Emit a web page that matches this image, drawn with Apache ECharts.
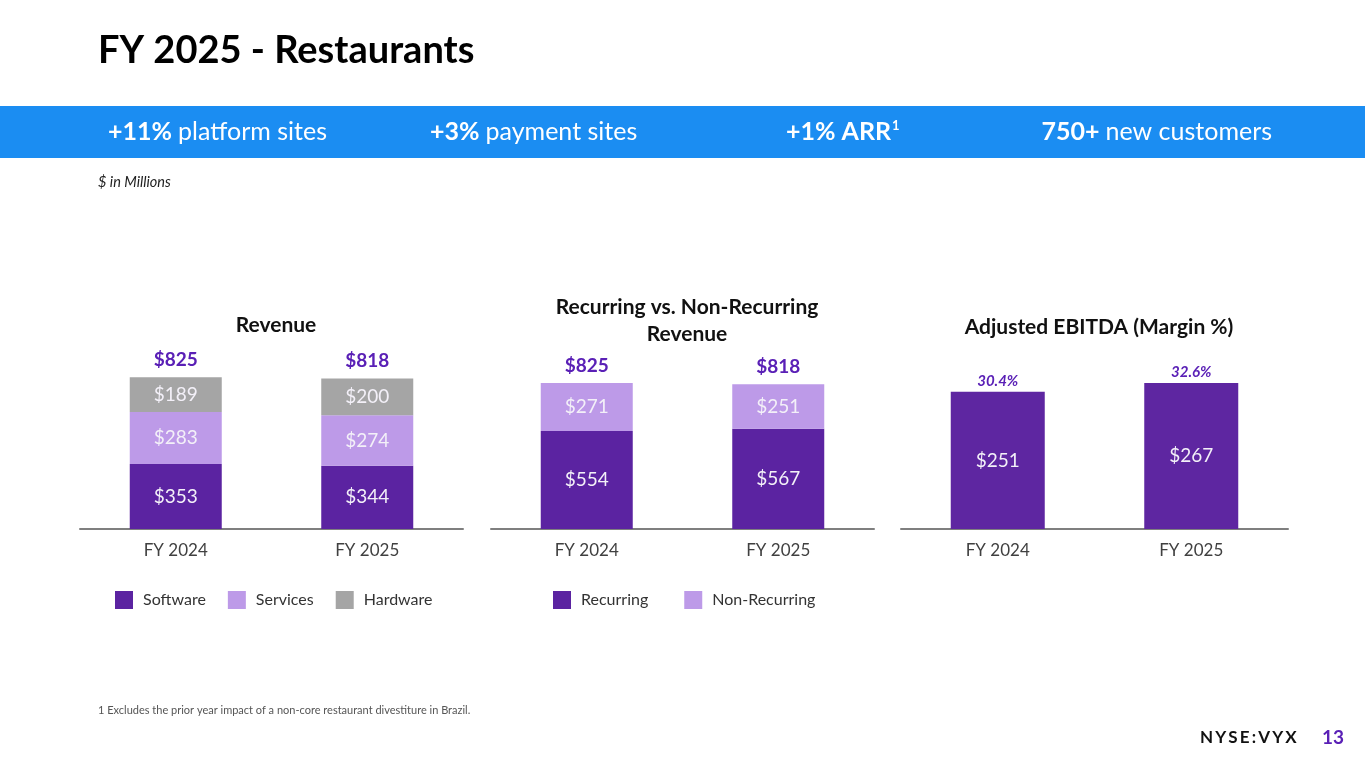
<!DOCTYPE html>
<html>
<head>
<meta charset="utf-8">
<script src="https://cdn.jsdelivr.net/npm/echarts@6/dist/echarts.min.js"></script>
<style>
html,body{margin:0;padding:0;background:#fff;}
#main{width:1365px;height:768px;}
</style>
</head>
<body>
<div id="main"></div>
<script>
// ---- data ----
const categories = ['FY 2024', 'FY 2025'];
const software = [353, 344];
const services = [283, 274];
const hardware = [189, 200];
const revenueTotals = [825, 818];
const recurring = [554, 567];
const nonRecurring = [271, 251];
const recurringTotals = [825, 818];
const ebitda = [251, 267];
const ebitdaMargin = [30.4, 32.6];

const FONT = 'Lato, "Noto Sans", sans-serif';
const DARK = '#5b23a1';
const LIGHT = '#bd9ae8';
const GRAY = '#a5a5a5';
const TOTAL = '#5a20b6';
const INLBL = '#f3f0f8';

const chart = echarts.init(document.getElementById('main'));

function xAxis(idx) {
  return {
    type: 'category', gridIndex: idx, data: categories,
    axisLine: {lineStyle: {color: '#7f7f7f', width: 2}},
    axisTick: {show: false},
    axisLabel: {fontSize: 17, color: '#404040', fontFamily: FONT, margin: 13}
  };
}
function yAxis(idx, max) {
  return {type: 'value', gridIndex: idx, min: 0, max: max, show: false, splitLine: {show: false}};
}
function seg(name, data, color, idx, bw) {
  return {
    name: name, type: 'bar', stack: 's' + idx, xAxisIndex: idx, yAxisIndex: idx,
    data: data, barWidth: bw, barGap: '-100%',
    itemStyle: {color: color},
    label: {show: true, position: 'inside', formatter: '${c}', color: INLBL, fontSize: 19, fontFamily: FONT},
    emphasis: {disabled: true}
  };
}
function totalSeries(name, data, idx, bw, fmt, lblStyle) {
  return {
    name: name, type: 'bar', xAxisIndex: idx, yAxisIndex: idx,
    data: data, barWidth: bw, barGap: '-100%', z: 1,
    itemStyle: {color: 'rgba(0,0,0,0)'},
    label: Object.assign({show: true, position: 'top', formatter: fmt, fontFamily: FONT}, lblStyle),
    emphasis: {disabled: true}, silent: true
  };
}
function bannerRich() {
  return {
    b: {fontSize: 25, fontWeight: 'bold', fill: '#fff', fontFamily: FONT},
    n: {fontSize: 25, fill: '#fff', fontFamily: FONT},
    s: {fontSize: 13, fontWeight: 'bold', fill: '#fff', fontFamily: FONT, verticalAlign: 'top', padding: [0, 0, 10, 1]}
  };
}

const option = {
  animation: false,
  backgroundColor: '#ffffff',
  textStyle: {fontFamily: FONT},
  title: [
    {text: 'Revenue', left: 271, top: 310, textAlign: 'center',
     textStyle: {fontSize: 21, fontWeight: 'bold', color: '#111', fontFamily: FONT}},
    {text: 'Recurring vs. Non-Recurring\nRevenue', left: 682, top: 289, textAlign: 'center',
     textStyle: {fontSize: 21, fontWeight: 'bold', color: '#111', lineHeight: 27, fontFamily: FONT}},
    {text: 'Adjusted EBITDA (Margin %)', left: 1094, top: 312, textAlign: 'center',
     textStyle: {fontSize: 21, fontWeight: 'bold', color: '#111', fontFamily: FONT}}
  ],
  legend: [
    {data: ['Software', 'Services', 'Hardware'], left: 110, top: 586, icon: 'rect',
     itemWidth: 18, itemHeight: 18, itemGap: 22, selectedMode: false,
     textStyle: {fontSize: 16, color: '#333', fontFamily: FONT, padding: [0, 0, 0, 5]}},
    {data: ['Recurring', 'Non-Recurring'], left: 548, top: 586, icon: 'rect',
     itemWidth: 18, itemHeight: 18, itemGap: 36, selectedMode: false,
     textStyle: {fontSize: 16, color: '#333', fontFamily: FONT, padding: [0, 0, 0, 5]}}
  ],
  grid: [
    {left: 80, width: 383, top: 345, height: 184},
    {left: 491, width: 383, top: 352, height: 177},
    {left: 901, width: 387, top: 365, height: 164}
  ],
  xAxis: [xAxis(0), xAxis(1), xAxis(2)],
  yAxis: [yAxis(0, 1000), yAxis(1, 1000), yAxis(2, 300)],
  series: [
    seg('Software', software, DARK, 0, 92),
    seg('Services', services, LIGHT, 0, 92),
    seg('Hardware', hardware, GRAY, 0, 92),
    totalSeries('RevTotal', revenueTotals, 0, 92, '${c}',
      {distance: 8, fontSize: 19, fontWeight: 'bold', color: TOTAL}),
    seg('Recurring', recurring, DARK, 1, 92),
    seg('Non-Recurring', nonRecurring, LIGHT, 1, 92),
    totalSeries('RecTotal', recurringTotals, 1, 92, '${c}',
      {distance: 8, fontSize: 19, fontWeight: 'bold', color: TOTAL}),
    seg('Adjusted EBITDA', ebitda, '#5e26a1', 2, 94),
    totalSeries('Margin', ebitda, 2, 94, function (p) { return ebitdaMargin[p.dataIndex].toFixed(1) + '%'; },
      {distance: 3, fontSize: 15, fontWeight: 'bold', fontStyle: 'italic', color: TOTAL})
  ],
  graphic: [
    {type: 'text', left: 98, top: 32, style: {text: 'FY 2025 - Restaurants', fill: '#000',
      font: 'bold 38px ' + FONT}},
    {type: 'rect', left: 0, top: 106, shape: {width: 1365, height: 52}, style: {fill: '#1b8df2'}},
    {type: 'text', left: 108, top: 119, style: {text: '{b|+11% }{n|platform sites}', rich: bannerRich()}},
    {type: 'text', left: 430, top: 119, style: {text: '{b|+3% }{n|payment sites}', rich: bannerRich()}},
    {type: 'text', left: 786, top: 119, style: {text: '{b|+1% ARR}{s|1}', rich: bannerRich()}},
    {type: 'text', right: 93, top: 119, style: {text: '{b|750+ }{n|new customers}', rich: bannerRich()}},
    {type: 'text', left: 98, top: 175, style: {text: '$ in Millions', fill: '#222',
      font: 'italic 14.5px ' + FONT}},
    {type: 'text', left: 98, top: 705, style: {
      text: '1 Excludes the prior year impact of a non-core restaurant divestiture in Brazil.',
      fill: '#555', font: '11px ' + FONT}},
    {type: 'text', left: 1200, top: 729, style: {text: 'N\u2009Y\u2009S\u2009E\u2009:\u2009V\u2009Y\u2009X', fill: '#111',
      font: 'bold 17px ' + FONT}},
    {type: 'text', left: 1322, top: 728, style: {text: '13', fill: '#5a20b6',
      font: 'bold 19px ' + FONT}}
  ]
};
chart.setOption(option);
</script>
</body>
</html>
